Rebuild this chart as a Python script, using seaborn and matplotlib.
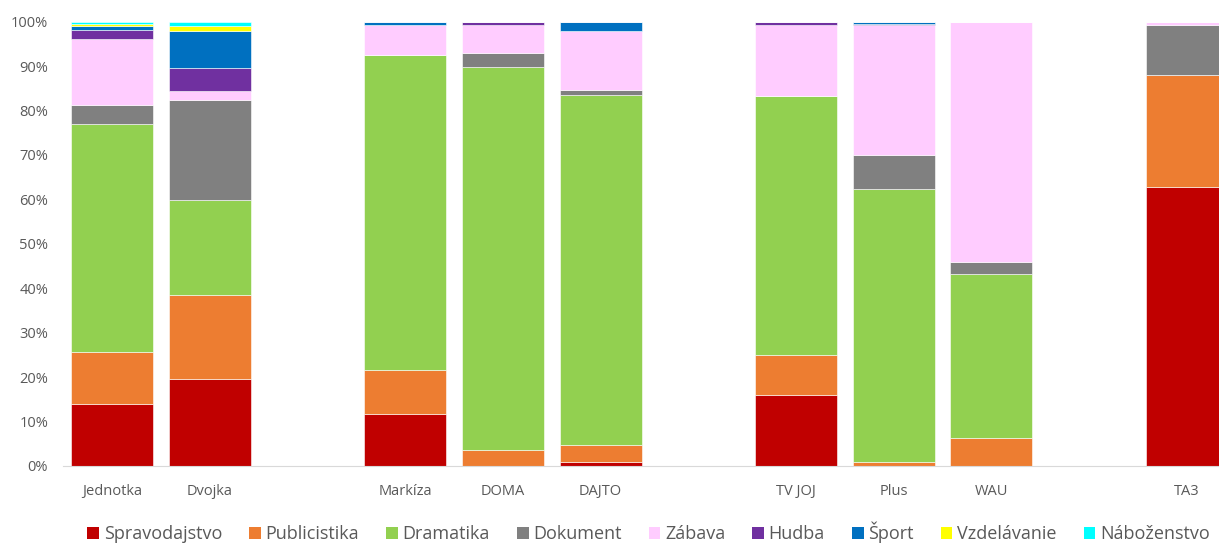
import pandas as pd
import matplotlib
matplotlib.use("Agg")
import matplotlib.pyplot as plt
import seaborn as sns
from matplotlib.patches import Patch

# stanice (prázdne medzery medzi skupinami)
stations = ["Jednotka", "Dvojka", " ", "Markíza", "DOMA", "DAJTO", "  ",
            "TV JOJ", "Plus", "WAU", "   ", "TA3"]

spravodajstvo = [14.0, 19.6, 0, 11.7, 0.0, 0.9, 0, 16.0, 0.0, 0.0, 0, 62.9]
publicistika  = [11.7, 18.9, 0, 9.9, 3.6, 3.8, 0, 9.0, 0.9, 6.3, 0, 25.0]
dramatika     = [51.3, 21.4, 0, 71.0, 86.3, 78.9, 0, 58.3, 61.5, 36.9, 0, 0.0]
dokument      = [4.3, 22.4, 0, 0.0, 3.0, 1.0, 0, 0.0, 7.6, 2.7, 0, 11.3]
zabava        = [14.8, 2.2, 0, 6.7, 6.4, 13.2, 0, 16.0, 29.2, 54.1, 0, 0.8]
hudba         = [2.1, 5.0, 0, 0.0, 0.7, 0.0, 0, 0.7, 0.3, 0.0, 0, 0.0]
sport         = [0.8, 8.5, 0, 0.7, 0.0, 2.2, 0, 0.0, 0.5, 0.0, 0, 0.0]
vzdelavanie   = [0.5, 1.1, 0, 0.0, 0.0, 0.0, 0, 0.0, 0.0, 0.0, 0, 0.0]
nabozenstvo   = [0.5, 0.8, 0, 0.0, 0.0, 0.0, 0, 0.0, 0.0, 0.0, 0, 0.0]

series = {
    "Spravodajstvo": spravodajstvo,
    "Publicistika": publicistika,
    "Dramatika": dramatika,
    "Dokument": dokument,
    "Zábava": zabava,
    "Hudba": hudba,
    "Šport": sport,
    "Vzdelávanie": vzdelavanie,
    "Náboženstvo": nabozenstvo,
}

palette = {
    "Spravodajstvo": "#C00000",
    "Publicistika": "#ED7D31",
    "Dramatika": "#92D050",
    "Dokument": "#808080",
    "Zábava": "#FFCCFF",
    "Hudba": "#7030A0",
    "Šport": "#0070C0",
    "Vzdelávanie": "#FFFF00",
    "Náboženstvo": "#00FFFF",
}

sns.set_style("white")
plt.rcParams["font.family"] = ["Open Sans", "DejaVu Sans"]

fig = plt.figure(figsize=(12.19, 5.43), dpi=100)
ax = fig.add_axes([0.052, 0.142, 0.948, 0.818])

bottom = [0.0] * len(stations)
for name, vals in series.items():
    df = pd.DataFrame({"station": stations, "value": vals})
    sns.barplot(data=df, x="station", y="value", order=stations, bottom=bottom,
                color=palette[name], saturation=1, width=0.84,
                edgecolor="white", linewidth=0.4, ax=ax)
    bottom = [b + v for b, v in zip(bottom, vals)]

ax.set_ylim(0, 100)
ax.set_xlim(-0.5, 11.33)
ax.set_yticks(range(0, 101, 10))
ax.set_yticklabels([f"{t}%" for t in range(0, 101, 10)])
ax.set_xlabel("")
ax.set_ylabel("")
for s in ["top", "right", "left"]:
    ax.spines[s].set_visible(False)
ax.spines["bottom"].set_color("#D9D9D9")
ax.tick_params(axis="both", length=0, labelsize=10.5, colors="#595959")
ax.tick_params(axis="x", pad=13)
ax.tick_params(axis="y", pad=11)

handles = [Patch(facecolor=c, edgecolor="none") for c in palette.values()]
fig.legend(handles, list(palette.keys()), loc="lower center", ncol=9,
           bbox_to_anchor=(0.532, -0.03), frameon=False, fontsize=13,
           handlelength=0.65, handleheight=0.65, handletextpad=0.25,
           columnspacing=1.5, labelcolor="#595959")

fig.savefig("out.png", dpi=100)
